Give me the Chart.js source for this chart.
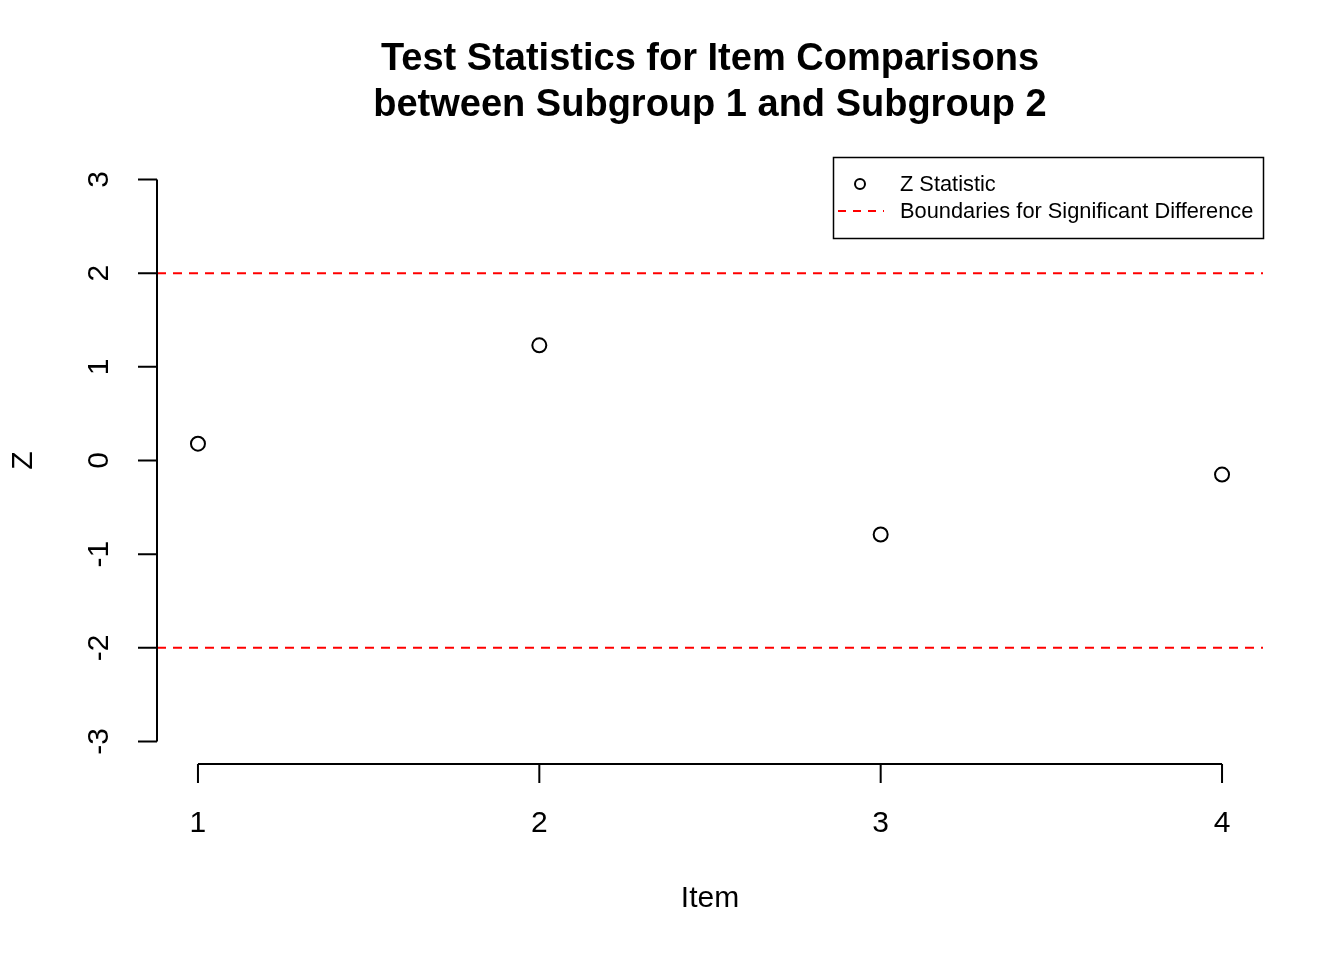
<!DOCTYPE html>
<html>
<head>
<meta charset="utf-8">
<script src="https://cdn.jsdelivr.net/npm/chart.js@4.4.0/dist/chart.umd.min.js"></script>
<style>
  html, body { margin: 0; padding: 0; background: #ffffff; }
  #chart { display: block; }
</style>
</head>
<body>
<canvas id="chart" width="1344" height="960"></canvas>
<script>
// data
var items = [1, 2, 3, 4];
var zValues = [0.18, 1.23, -0.79, -0.15];
var boundaries = [2, -2];
var yTicks = [-3, -2, -1, 0, 1, 2, 3];
var titleLines = ['Test Statistics for Item Comparisons', 'between Subgroup 1 and Subgroup 2'];

// R style axis range: 4% padding each side
var xLo = Math.min.apply(null, items), xHi = Math.max.apply(null, items);
var xPad = (xHi - xLo) * 0.04;
var yLo = yTicks[0], yHi = yTicks[yTicks.length - 1];
var yPad = (yHi - yLo) * 0.04;

var FONT = '"Liberation Sans", Arial, Helvetica, sans-serif';

var points = items.map(function (it, i) { return { x: it, y: zValues[i] }; });

var datasets = [{
    label: 'Z Statistic',
    data: points,
    showLine: false,
    pointStyle: 'circle',
    pointRadius: 7,
    pointHoverRadius: 7,
    pointBorderWidth: 2,
    pointBackgroundColor: 'rgba(0,0,0,0)',
    pointBorderColor: '#000000'
}];
boundaries.forEach(function (b) {
    datasets.push({
        type: 'line',
        label: 'Boundaries for Significant Difference',
        data: [{ x: xLo - xPad, y: b }, { x: xHi + xPad, y: b }],
        borderColor: '#ff0000',
        borderWidth: 2,
        borderDash: [9, 7],
        pointRadius: 0,
        fill: false
    });
});

var rAxes = {
    id: 'rAxes',
    afterDraw: function (chart) {
        var ctx = chart.ctx;
        var xs = chart.scales.x, ys = chart.scales.y;
        var area = chart.chartArea;
        ctx.save();
        ctx.strokeStyle = '#000';
        ctx.fillStyle = '#000';
        ctx.lineWidth = 2;

        // y axis
        var axX = area.left;
        ctx.beginPath();
        ctx.moveTo(axX, ys.getPixelForValue(yLo));
        ctx.lineTo(axX, ys.getPixelForValue(yHi));
        yTicks.forEach(function (t) {
            var py = ys.getPixelForValue(t);
            ctx.moveTo(axX, py);
            ctx.lineTo(axX - 19, py);
        });
        ctx.stroke();
        ctx.font = '30px ' + FONT;
        ctx.textAlign = 'center';
        ctx.textBaseline = 'middle';
        yTicks.forEach(function (t) {
            var py = ys.getPixelForValue(t);
            ctx.save();
            ctx.translate(100, py);
            ctx.rotate(-Math.PI / 2);
            ctx.fillText(String(t), 0, 0);
            ctx.restore();
        });

        // x axis
        var axY = area.bottom;
        ctx.beginPath();
        ctx.moveTo(xs.getPixelForValue(xLo), axY);
        ctx.lineTo(xs.getPixelForValue(xHi), axY);
        items.forEach(function (it) {
            var px = xs.getPixelForValue(it);
            ctx.moveTo(px, axY);
            ctx.lineTo(px, axY + 19);
        });
        ctx.stroke();
        items.forEach(function (it) {
            ctx.fillText(String(it), xs.getPixelForValue(it), 824);
        });

        // axis titles
        var midX = (area.left + area.right) / 2;
        ctx.fillText('Item', midX, 899);
        ctx.save();
        ctx.translate(24, (area.top + area.bottom) / 2);
        ctx.rotate(-Math.PI / 2);
        ctx.fillText('Z', 0, 0);
        ctx.restore();

        // main title
        ctx.font = 'bold 38px ' + FONT;
        ctx.textBaseline = 'alphabetic';
        ctx.fillText(titleLines[0], midX, 70);
        ctx.fillText(titleLines[1], midX, 116);

        // legend box
        var lx = 833, ly = 157, lw = area.right - lx, lh = 81;
        ctx.lineWidth = 1.5;
        ctx.strokeRect(lx + 0.5, ly + 0.5, lw, lh);
        ctx.beginPath();
        ctx.lineWidth = 2;
        ctx.arc(860, 184, 5, 0, Math.PI * 2);
        ctx.stroke();
        ctx.beginPath();
        ctx.strokeStyle = '#ff0000';
        ctx.setLineDash([8, 7]);
        ctx.moveTo(838, 211);
        ctx.lineTo(884, 211);
        ctx.stroke();
        ctx.setLineDash([]);
        ctx.font = '21.8px ' + FONT;
        ctx.textAlign = 'left';
        ctx.textBaseline = 'middle';
        ctx.fillText('Z Statistic', 900, 185);
        ctx.fillText('Boundaries for Significant Difference', 900, 212);
        ctx.restore();
    }
};

new Chart(document.getElementById('chart'), {
    type: 'scatter',
    data: { datasets: datasets },
    options: {
        responsive: false,
        animation: false,
        layout: { padding: { left: 157, right: 81, top: 157, bottom: 196 } },
        plugins: {
            legend: { display: false },
            title: { display: false },
            tooltip: { enabled: false }
        },
        scales: {
            x: { type: 'linear', min: xLo - xPad, max: xHi + xPad, display: false },
            y: { type: 'linear', min: yLo - yPad, max: yHi + yPad, display: false }
        }
    },
    plugins: [rAxes]
});
</script>
</body>
</html>
